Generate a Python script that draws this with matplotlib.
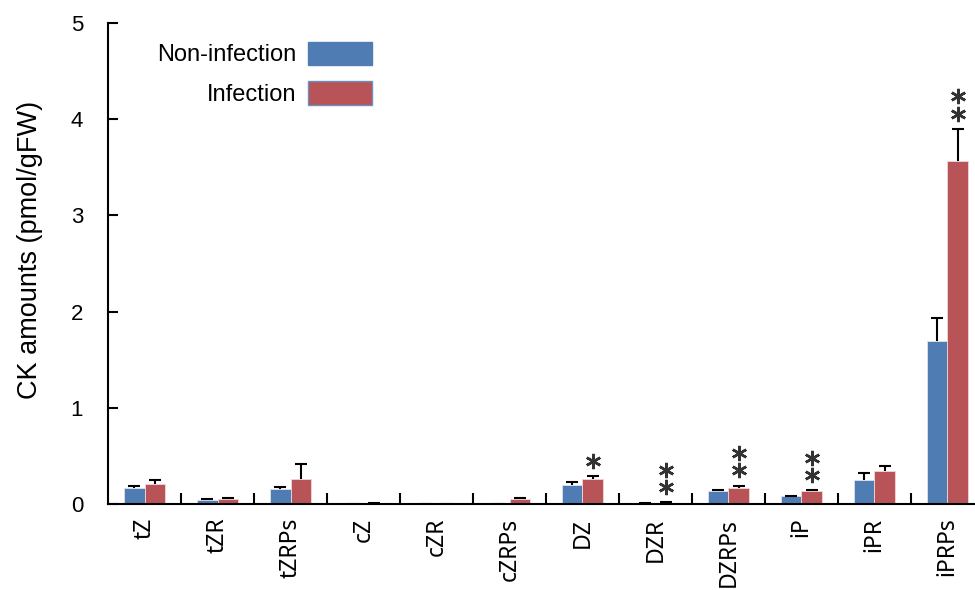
import numpy as np
import matplotlib.pyplot as plt
from matplotlib.patches import Patch
from matplotlib.transforms import ScaledTranslation

plt.rcParams['font.family'] = ['Liberation Sans', 'DejaVu Sans']

labels = ['tZ', 'tZR', 'tZRPs', 'cZ', 'cZR', 'cZRPs',
          'DZ', 'DZR', 'DZRPs', 'iP', 'iPR', 'iPRPs']
non_inf = [0.17, 0.045, 0.155, 0.0, 0.0, 0.0, 0.20, 0.005, 0.13, 0.08, 0.25, 1.69]
non_inf_err = [0.02, 0.008, 0.02, 0.0, 0.0, 0.0, 0.03, 0.005, 0.012, 0.006, 0.075, 0.24]
inf = [0.21, 0.05, 0.26, 0.004, 0.0, 0.05, 0.26, 0.01, 0.17, 0.13, 0.34, 3.57]
inf_err = [0.035, 0.007, 0.15, 0.004, 0.0, 0.006, 0.03, 0.006, 0.02, 0.012, 0.05, 0.33]
stars = [0, 0, 0, 0, 0, 0, 1, 2, 2, 2, 0, 2]

blue = '#4f7db3'
red = '#b85458'

fig = plt.figure(figsize=(9.75, 5.9), dpi=100)
ax = fig.add_axes([0.111, 0.146, 0.898, 0.815])

x = np.arange(len(labels)) + 0.5
w = 0.28
zeros = np.zeros(len(labels))

ax.bar(x - w / 2, non_inf, w, color=blue, edgecolor='#dde3ee', linewidth=0.6)
ax.bar(x + w / 2, inf, w, color=red, edgecolor='#eed8d8', linewidth=0.6)

# upper-only error bars: drop the cap that errorbar puts at the bar top
for xs, vals, errs in [(x - w / 2, non_inf, non_inf_err), (x + w / 2, inf, inf_err)]:
    eb = ax.errorbar(xs, vals, yerr=[zeros, errs], fmt='none', ecolor='black',
                     elinewidth=1.5, capsize=4.5, capthick=1.5)
    for cap in eb.lines[1]:
        if np.allclose(cap.get_ydata(), vals):
            cap.set_visible(False)

# significance asterisks stacked above the infection bars
for xi, top, n in zip(x + w / 2, np.add(inf, inf_err), stars):
    for k in range(n):
        shift = ScaledTranslation(0, (11 + 12.5 * k) / 72, fig.dpi_scale_trans)
        ax.plot([xi], [top], linestyle='none', marker=(6, 2, 0), markersize=11,
                markeredgewidth=1.8, color='#333333',
                transform=ax.transData + shift, clip_on=False)

ax.set_xlim(0, len(labels))
ax.set_ylim(0, 5)
ax.set_yticks(range(6))
ax.set_xticks(np.arange(1, len(labels)))
ax.set_xticks(x, minor=True)
ax.set_xticklabels([])
ax.set_xticklabels(labels, minor=True, rotation=90, fontsize=16.5,
                   family=['Noto Sans', 'DejaVu Sans'])
ax.tick_params(axis='x', which='major', direction='in', length=8, width=1.5)
ax.tick_params(axis='x', which='minor', length=0, pad=10)
ax.tick_params(axis='y', direction='in', length=7, width=1.5, pad=18, labelsize=16)

for s in ['top', 'right']:
    ax.spines[s].set_visible(False)
for s in ['left', 'bottom']:
    ax.spines[s].set_linewidth(1.5)

ax.set_ylabel('CK amounts (pmol/gFW)', fontsize=19.5)
ax.yaxis.set_label_coords(-0.074, 0.528)

handles = [Patch(facecolor=blue, edgecolor=blue),
           Patch(facecolor=red, edgecolor='#6a8fc0')]
ax.legend(handles, ['Non-infection', 'Infection'], loc='upper right',
          bbox_to_anchor=(0.301, 0.961), frameon=False, markerfirst=False,
          fontsize=17, handlelength=2.7, handleheight=1.15, handletextpad=0.5,
          labelspacing=0.62, borderpad=0, borderaxespad=0)

fig.savefig('out.png', dpi=100)
